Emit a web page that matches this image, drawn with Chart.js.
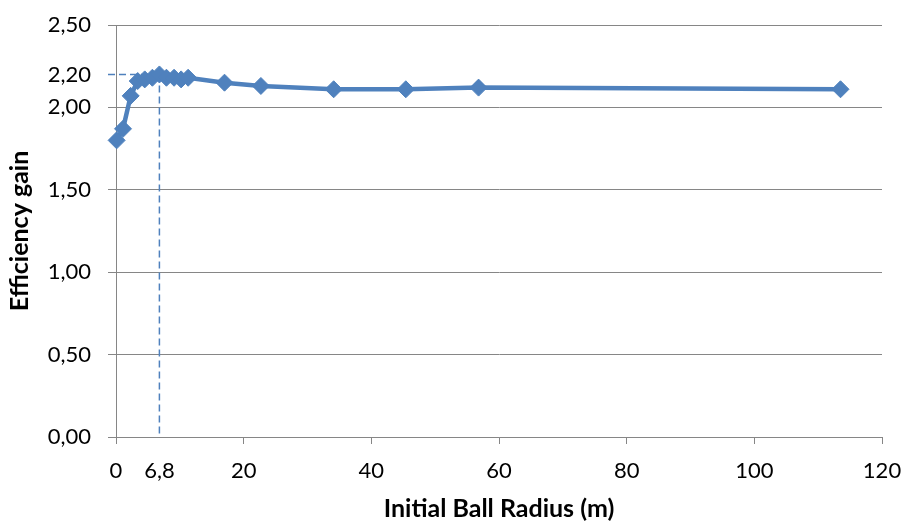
<!DOCTYPE html>
<html>
<head>
<meta charset="utf-8">
<script src="https://cdn.jsdelivr.net/npm/chart.js@4/dist/chart.umd.min.js"></script>
<style>
  html, body { margin: 0; padding: 0; background: #ffffff; }
  #wrap { width: 907px; height: 525px; }
</style>
</head>
<body>
<div id="wrap"><canvas id="c" width="907" height="525"></canvas></div>
<script>
// Initial ball radius (m) and the resulting efficiency gain
const radius = [0.1, 1.1, 2.3, 3.4, 4.5, 5.7, 6.8, 7.9, 9.1, 10.2, 11.3, 17.0, 22.7, 34.1, 45.4, 56.8, 113.5];
const gain   = [1.80, 1.87, 2.07, 2.16, 2.17, 2.18, 2.20, 2.18, 2.18, 2.17, 2.18, 2.15, 2.13, 2.11, 2.11, 2.12, 2.11];

// Axis ticks and the highlighted optimum
const xTicks = [0, 20, 40, 60, 80, 100, 120];
const yTicks = [0, 0.5, 1.0, 1.5, 2.0, 2.5];
const optimumRadius = 6.8;
const optimumGain = 2.20;

const BLUE = '#4F81BD';
const GRID = '#868686';
const FONT = 'Lato';

const fmtY = v => v.toFixed(2).replace('.', ',');
const fmtX = v => (Number.isInteger(v) ? String(v) : String(v).replace('.', ','));

// Dashed guide lines from the axes to the optimum point
const optimumGuides = {
  id: 'optimumGuides',
  beforeDatasetsDraw(chart) {
    const { ctx, scales: { x, y } } = chart;
    const px = x.getPixelForValue(optimumRadius);
    const py = y.getPixelForValue(optimumGain);
    ctx.save();
    ctx.strokeStyle = BLUE;
    ctx.lineWidth = 1.5;
    ctx.setLineDash([7, 4]);
    ctx.beginPath();
    ctx.moveTo(x.left - 8, py);
    ctx.lineTo(px, py);
    ctx.moveTo(px, py);
    ctx.lineTo(px, y.bottom);
    ctx.stroke();
    ctx.restore();
  }
};

new Chart(document.getElementById('c'), {
  type: 'scatter',
  data: {
    datasets: [{
      data: radius.map((r, i) => ({ x: r, y: gain[i] })),
      showLine: true,
      borderColor: BLUE,
      borderWidth: 4.5,
      backgroundColor: BLUE,
      pointStyle: 'rectRot',
      pointRadius: 8.5,
      pointBorderWidth: 1,
      pointBorderColor: BLUE,
      pointBackgroundColor: BLUE,
      tension: 0,
      clip: false
    }]
  },
  options: {
    responsive: false,
    animation: false,
    devicePixelRatio: 1,
    layout: { autoPadding: false, padding: { left: 0, top: 25, right: 25, bottom: 0 } },
    plugins: { legend: { display: false }, tooltip: { enabled: false } },
    scales: {
      x: {
        type: 'linear',
        min: 0,
        max: 120,
        afterBuildTicks(scale) {
          scale.ticks = xTicks.concat([optimumRadius]).sort((a, b) => a - b).map(v => ({ value: v }));
        },
        afterFit(scale) {
          scale.height = 88;
          scale.paddingLeft = 0;
          scale.paddingRight = 0;
        },
        ticks: {
          autoSkip: false,
          maxRotation: 0,
          padding: 14,
          color: '#000',
          font: { family: FONT, size: 22 },
          callback: v => fmtX(v)
        },
        grid: {
          drawOnChartArea: false,
          drawTicks: true,
          tickLength: 7,
          color: c => (c.tick && c.tick.value === optimumRadius ? 'rgba(0,0,0,0)' : GRID)
        },
        border: { color: GRID, width: 1 },
        title: {
          display: true,
          text: 'Initial Ball Radius (m)',
          color: '#000',
          font: { family: FONT, size: 25, weight: 'bold' },
          padding: { top: 0, bottom: 1 }
        }
      },
      y: {
        type: 'linear',
        min: 0,
        max: 2.5,
        afterBuildTicks(scale) {
          scale.ticks = yTicks.concat([optimumGain]).sort((a, b) => a - b).map(v => ({ value: v }));
        },
        afterFit(scale) {
          scale.width = 116;
          scale.paddingTop = 0;
          scale.paddingBottom = 0;
        },
        ticks: {
          autoSkip: false,
          padding: 17,
          color: '#000',
          font: { family: FONT, size: 22 },
          callback: v => fmtY(v)
        },
        grid: {
          drawTicks: true,
          tickLength: 8,
          color: c => (c.tick && c.tick.value === optimumGain ? 'rgba(0,0,0,0)' : GRID)
        },
        border: { color: GRID, width: 1 },
        title: {
          display: true,
          text: 'Efficiency gain',
          color: '#000',
          font: { family: FONT, size: 25, weight: 'bold' },
          padding: { top: 5, bottom: 0 }
        }
      }
    }
  },
  plugins: [optimumGuides]
});
</script>
</body>
</html>
